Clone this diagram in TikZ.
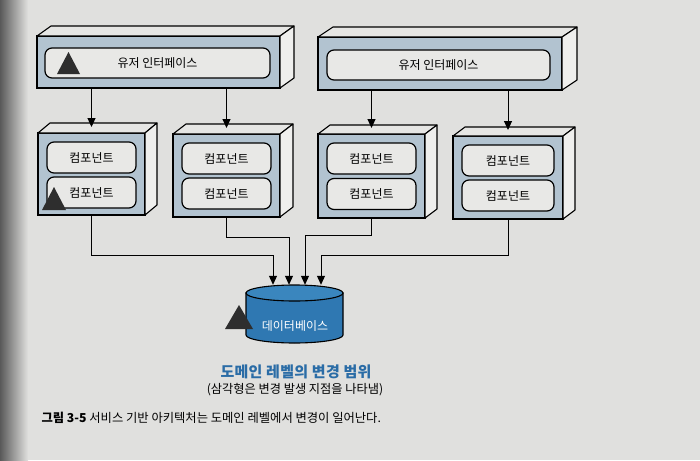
\documentclass[tikz,border=0pt]{standalone}
\usepackage{fontspec}
\newfontfamily\kr{Noto Sans CJK KR}
\newfontfamily\krwide[LetterSpace=2]{Noto Sans CJK KR}
\usetikzlibrary{arrows.meta,calc}
\definecolor{page}{HTML}{E0E0DE}
\definecolor{frontc}{HTML}{B2C3D0}
\definecolor{facec}{HTML}{E6E6E4}
\definecolor{sidec}{HTML}{EFEFED}
\definecolor{innerc}{HTML}{E8E8E6}
\definecolor{dbblue}{HTML}{2F78B2}
\definecolor{dbtop}{HTML}{3A86BE}
\definecolor{titleblue}{HTML}{2A6CA6}
\definecolor{tric}{HTML}{2E2E2E}
\tikzset{
  front/.style={draw=black, line width=1.3pt, fill=frontc, inner sep=0pt, outer sep=0pt},
  face/.style={draw=black, line width=1.1pt, fill=facec, line join=round},
  side/.style={draw=black, line width=1.1pt, fill=sidec, line join=round},
  inner/.style={draw=black, line width=1.2pt, fill=innerc, rounded corners=7pt, inner sep=0pt, font=\kr\fontsize{12}{14}\selectfont},
  arr/.style={draw=black, line width=1pt, -{Triangle[length=9pt,width=8pt]}},
  tri/.style={fill=tric},
}
\newcommand{\boxfaces}[3]{%
  \draw[face] (#1.north west) -- ++(#2,#3) -- ($(#1.north east)+(#2,#3)$) -- (#1.north east) -- cycle;
  \draw[side] (#1.north east) -- ++(#2,#3) -- ($(#1.south east)+(#2,#3)$) -- (#1.south east) -- cycle;
}
\begin{document}
\begin{tikzpicture}[x=1pt,y=-1pt]
\useasboundingbox (0,0) rectangle (700,460);
\fill[page] (0,0) rectangle (700,460);
\shade[left color=black!65, right color=page] (0,0) rectangle (28,460);

% user interface boxes
\node[front, minimum width=243pt, minimum height=52pt] (ui1) at (158.5,62) {};
\boxfaces{ui1}{14}{-10}
\node[inner, minimum width=225pt, minimum height=30pt] (ui1in) at (157.5,63) {유저 인터페이스};
\fill[tri] (57,74) -- (80,74) -- (68.5,52) -- cycle;

\node[front, minimum width=244pt, minimum height=53pt] (ui2) at (440,63.5) {};
\boxfaces{ui2}{15}{-10}
\node[inner, minimum width=223pt, minimum height=30pt] (ui2in) at (438.5,65) {유저 인터페이스};

% component boxes
\node[front, minimum width=107pt, minimum height=82pt] (c1) at (91.5,174) {};
\boxfaces{c1}{12}{-10}
\node[inner, minimum width=89pt, minimum height=31pt] (c1a) at (91.5,157.5) {컴포넌트};
\node[inner, minimum width=89pt, minimum height=31pt] (c1b) at (91.5,192.5) {컴포넌트};
\fill[tri] (42,210) -- (66,210) -- (54,187) -- cycle;

\node[front, minimum width=107pt, minimum height=83pt] (c2) at (226.5,175.5) {};
\boxfaces{c2}{13}{-10}
\node[inner, minimum width=89pt, minimum height=31pt] (c2a) at (226.5,158.5) {컴포넌트};
\node[inner, minimum width=89pt, minimum height=31pt] (c2b) at (226.5,193.5) {컴포넌트};

\node[front, minimum width=107pt, minimum height=84pt] (c3) at (371.5,176) {};
\boxfaces{c3}{12}{-9}
\node[inner, minimum width=89pt, minimum height=31pt] (c3a) at (371.5,158.5) {컴포넌트};
\node[inner, minimum width=89pt, minimum height=31pt] (c3b) at (371.5,194) {컴포넌트};

\node[front, minimum width=110pt, minimum height=83pt] (c4) at (508,177.5) {};
\boxfaces{c4}{12}{-9}
\node[inner, minimum width=92pt, minimum height=31pt] (c4a) at (508,160.5) {컴포넌트};
\node[inner, minimum width=92pt, minimum height=31pt] (c4b) at (508,195.5) {컴포넌트};

% arrows UI -> components
\draw[arr] (c1.north |- ui1.south) -- ($(c1.north)+(0,-6)$);
\draw[arr] (c2.north |- ui1.south) -- ($(c2.north)+(0,-6)$);
\draw[arr] (c3.north |- ui2.south) -- ($(c3.north)+(0,-6)$);
\draw[arr] (c4.north |- ui2.south) -- ($(c4.north)+(0,-6)$);

% database
\node[minimum width=97pt, minimum height=58pt, inner sep=0pt] (db) at (294.5,314) {};
\draw[line width=1.1pt, fill=dbblue] (246,293) -- (246,335) arc[start angle=180, end angle=0, x radius=48.5, y radius=8] -- (343,293) -- cycle;
\draw[line width=1.1pt, fill=dbtop] (294.5,293) ellipse [x radius=48.5, y radius=8];
\node[text=white, font=\kr\fontsize{12}{14}\selectfont] (dbt) at (295,326) {데이터베이스};
\fill[tri] (225,329) -- (253,329) -- (239,305) -- cycle;

% connectors components -> database
\coordinate (j1) at (273,255);
\coordinate (j2) at (289,237);
\coordinate (j3) at (305,235);
\coordinate (j4) at (321,255);
\draw[arr] (c1.south) |- (j1) -- (j1 |- db.north);
\draw[arr] (c2.south) |- (j2) -- (j2 |- db.north);
\draw[arr] (c3.south) |- (j3) -- (j3 |- db.north);
\draw[arr] (c4.south) |- (j4) -- (j4 |- db.north);

% labels
\node[text=titleblue, font=\krwide\bfseries\fontsize{15}{17}\selectfont] (title) at (296,372) {도메인 레벨의 변경 범위};
\node[font=\kr\fontsize{12.2}{14}\selectfont] (sub) at (295,390) {(삼각형은 변경 발생 지점을 나타냄)};
\node[anchor=west, font=\kr\fontsize{12.3}{14}\selectfont] (cap) at (38,418) {{\bfseries 그림 3-5} 서비스 기반 아키텍처는 도메인 레벨에서 변경이 일어난다.};
\end{tikzpicture}
\end{document}
